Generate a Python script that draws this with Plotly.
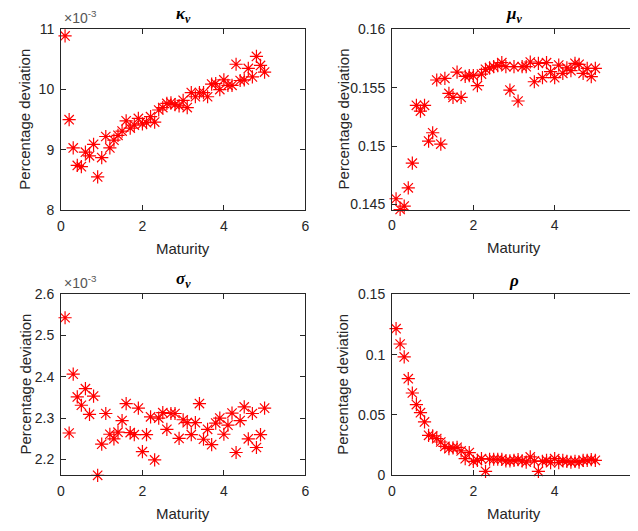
import plotly.graph_objects as go

maturity = [round(0.1 * i, 1) for i in range(1, 51)]

kappa_e3 = [10.89, 9.50, 9.03, 8.74, 8.72, 8.96, 8.90, 9.09, 8.55, 8.87,
            9.22, 9.03, 9.16, 9.24, 9.31, 9.48, 9.36, 9.41, 9.52, 9.43,
            9.45, 9.55, 9.46, 9.66, 9.70, 9.77, 9.78, 9.75, 9.73, 9.82,
            9.70, 9.95, 9.88, 9.95, 9.95, 9.88, 10.09, 10.10, 10.00, 10.16,
            10.07, 10.07, 10.42, 10.15, 10.16, 10.35, 10.21, 10.55, 10.40, 10.29]

mu = [0.14549, 0.14457, 0.14486, 0.14643, 0.14854, 0.15349, 0.15300, 0.15349, 0.15043, 0.15114,
      0.15566, 0.15017, 0.15580, 0.15451, 0.15417, 0.15634, 0.15417, 0.15597, 0.15603, 0.15603,
      0.15517, 0.15617, 0.15657, 0.15669, 0.15680, 0.15689, 0.15714, 0.15680, 0.15480, 0.15680,
      0.15386, 0.15680, 0.15680, 0.15720, 0.15551, 0.15709, 0.15586, 0.15714, 0.15637, 0.15586,
      0.15694, 0.15623, 0.15669, 0.15646, 0.15709, 0.15700, 0.15623, 0.15666, 0.15594, 0.15666]

sigma_e3 = [2.542, 2.264, 2.406, 2.351, 2.331, 2.371, 2.309, 2.353, 2.162, 2.237,
            2.311, 2.261, 2.250, 2.266, 2.294, 2.335, 2.265, 2.260, 2.324, 2.219,
            2.260, 2.303, 2.199, 2.300, 2.313, 2.273, 2.311, 2.311, 2.251, 2.296,
            2.289, 2.260, 2.289, 2.335, 2.249, 2.273, 2.236, 2.288, 2.300, 2.261,
            2.283, 2.312, 2.217, 2.294, 2.327, 2.250, 2.311, 2.229, 2.260, 2.324]

rho = [0.1215, 0.1088, 0.0981, 0.0801, 0.0682, 0.0586, 0.0519, 0.0442, 0.0331, 0.0326,
       0.0304, 0.0276, 0.0240, 0.0221, 0.0227, 0.0232, 0.0202, 0.0138, 0.0188, 0.0116,
       0.0124, 0.0138, 0.0033, 0.0133, 0.0133, 0.0133, 0.0133, 0.0119, 0.0119, 0.0124,
       0.0130, 0.0119, 0.0110, 0.0152, 0.0119, 0.0033, 0.0116, 0.0124, 0.0105, 0.0138,
       0.0105, 0.0124, 0.0116, 0.0110, 0.0116, 0.0110, 0.0124, 0.0124, 0.0130, 0.0124]

x_ticks = [0, 2, 4, 6]
kappa_ticks = [8, 9, 10, 11]
mu_ticks = [0.145, 0.15, 0.155, 0.16]
mu_ticktext = ["0.145", "0.15", "0.155", "0.16"]
sigma_ticks = [2.2, 2.3, 2.4, 2.5, 2.6]
sigma_ticktext = ["2.2", "2.3", "2.4", "2.5", "2.6"]
rho_ticks = [0, 0.05, 0.1, 0.15]
rho_ticktext = ["0", "0.05", "0.1", "0.15"]

titles = ["<b><i>κ</i></b><sub><b><i>ν</i></b></sub>",
          "<b><i>μ</i></b><sub><b><i>ν</i></b></sub>",
          "<b><i>σ</i></b><sub><b><i>ν</i></b></sub>",
          "<b><i>ρ</i></b>"]

W, H = 638, 531
OFF = 8  # default page body margin
AX = "#262626"
FONT = "Liberation Sans, Arial, sans-serif"

# panel pixel boxes in the screenshot: (left, right, top, bottom)
boxes = [(61, 305.3, 29.3, 210), (392, 636, 29.3, 209.5),
         (61, 305.3, 293.7, 475.3), (392, 636, 294.3, 475.3)]
ylabel_x = [25, 343, 25, 343]
series = [kappa_e3, mu, sigma_e3, rho]
yranges = [[8, 11], [0.14457, 0.16], [2.162, 2.6], [0, 0.15]]
ytick_sets = [(kappa_ticks, [str(v) for v in kappa_ticks]), (mu_ticks, mu_ticktext),
              (sigma_ticks, sigma_ticktext), (rho_ticks, rho_ticktext)]


def px(v):
    return (v - OFF) / W


def py(v):
    return 1 - (v - OFF) / H


fig = go.Figure()
layout = dict(width=W, height=H, margin=dict(l=0, r=0, t=0, b=0, autoexpand=False),
              paper_bgcolor="white", plot_bgcolor="white", showlegend=False)
annotations = []

for i, (box, ys) in enumerate(zip(boxes, series)):
    n = "" if i == 0 else str(i + 1)
    l, r, t, b = box
    fig.add_trace(go.Scatter(x=maturity, y=ys, mode="markers", cliponaxis=False,
                             xaxis="x" + n, yaxis="y" + n,
                             marker=dict(symbol="asterisk-open", size=11,
                                         color="red", line=dict(color="red", width=1.2))))
    common = dict(showline=True, linecolor=AX, linewidth=1, mirror="ticks",
                  ticks="inside", ticklen=5, tickcolor=AX, showgrid=False, zeroline=False,
                  tickfont=dict(family=FONT, size=14, color=AX), ticklabelstandoff=3)
    layout["xaxis" + n] = dict(domain=[px(l), px(r)], range=[0, 6], tickmode="array",
                               tickvals=x_ticks, ticktext=[str(v) for v in x_ticks],
                               anchor="y" + n, **common)
    tv, tt = ytick_sets[i]
    layout["yaxis" + n] = dict(domain=[py(b), py(t)], range=yranges[i], tickmode="array",
                               tickvals=tv, ticktext=tt, anchor="x" + n, **common)
    cx = px((l + r) / 2)
    annotations.append(dict(text=titles[i], x=cx, y=py(t - 14), xref="paper", yref="paper",
                            showarrow=False, xanchor="center", yanchor="middle",
                            font=dict(family="Liberation Serif, Times New Roman, serif",
                                      size=17, color="black")))
    annotations.append(dict(text="Maturity", x=cx, y=py(b + 38), xref="paper", yref="paper",
                            showarrow=False, xanchor="center", yanchor="middle",
                            font=dict(family=FONT, size=15, color=AX)))
    annotations.append(dict(text="Percentage deviation", x=px(ylabel_x[i]), y=py((t + b) / 2),
                            xref="paper", yref="paper", showarrow=False, textangle=-90,
                            xanchor="center", yanchor="middle",
                            font=dict(family=FONT, size=15, color=AX)))

for box in (boxes[0], boxes[2]):
    l, r, t, b = box
    annotations.append(dict(text="×10<sup>-3</sup>", x=px(l + 1), y=py(t - 1),
                            xref="paper", yref="paper", showarrow=False,
                            xanchor="left", yanchor="bottom",
                            font=dict(family=FONT, size=14, color="#555555")))

layout["annotations"] = annotations
fig.update_layout(**layout)
fig.write_html("out.html")
